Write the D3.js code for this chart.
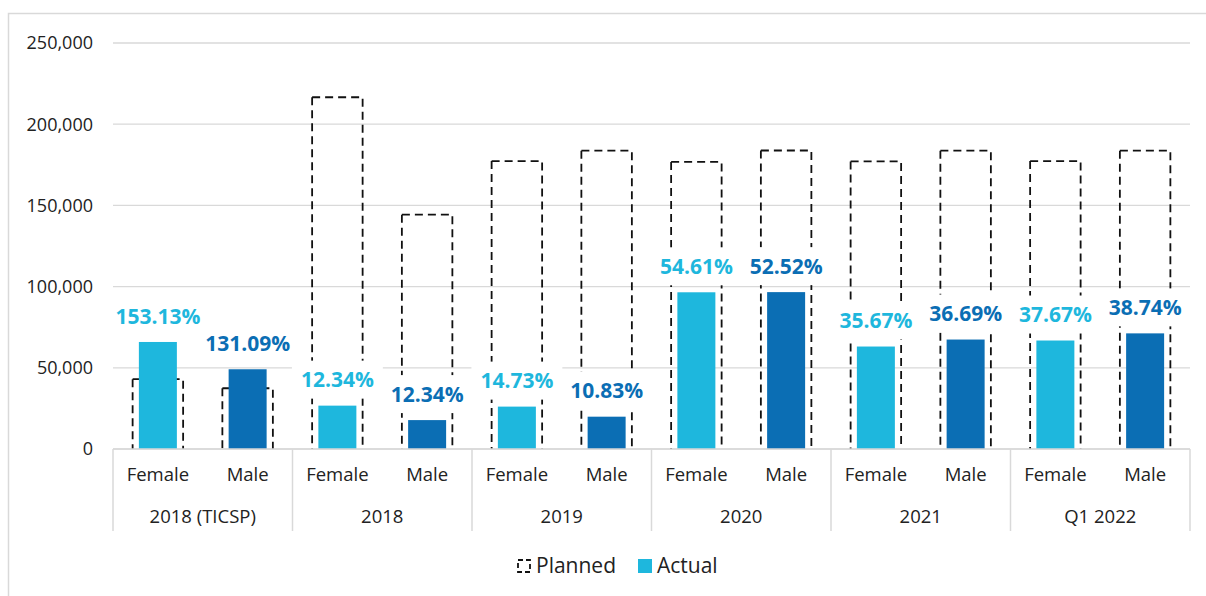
<!DOCTYPE html>
<html lang="en">
<head>
    <meta charset="UTF-8">
    <script src="https://d3js.org/d3.v7.min.js"></script>
    <title>Planned vs Actual</title>
    <style>
        body { margin: 0; background: #fff; }
        text { font-family: "Open Sans", "Noto Sans", sans-serif; }
    </style>
</head>
<body>
<div id="viz"></div>
<script>
    // data
    const groups = ["2018 (TICSP)", "2018", "2019", "2020", "2021", "Q1 2022"];
    const genders = ["Female", "Male"];
    const planned = [43000, 37400, 216600, 144300, 177300, 183700, 176800, 183800, 177100, 183700, 177300, 183700];
    const actual = [65900, 49100, 26700, 17800, 26100, 19900, 96500, 96600, 63100, 67400, 66800, 71200];
    const pctLabels = ["153.13%", "131.09%", "12.34%", "12.34%", "14.73%", "10.83%", "54.61%", "52.52%", "35.67%", "36.69%", "37.67%", "38.74%"];
    const yTicks = [0, 50000, 100000, 150000, 200000, 250000];

    const width = 1206, height = 596;
    const plot = {left: 113, right: 1190, top: 43, bottom: 449};
    const colors = {Female: "#1eb7dd", Male: "#0b6eb4"};
    const gridColor = "#d9d9d9";

    const rows = [];
    groups.forEach((g, gi) => genders.forEach((s, si) => {
        const i = gi * 2 + si;
        rows.push({key: g + "|" + s, group: g, gender: s, planned: planned[i], actual: actual[i], label: pctLabels[i]});
    }));

    const svg = d3.select("#viz")
        .append("svg")
        .attr("width", width)
        .attr("height", height);

    // chart frame
    svg.append("rect")
        .attr("x", 8.5).attr("y", 13.5)
        .attr("width", 1220).attr("height", 620)
        .attr("fill", "none")
        .attr("stroke", gridColor)
        .attr("stroke-width", 1.5);

    const x = d3.scaleBand()
        .domain(rows.map(d => d.key))
        .range([plot.left, plot.right]);
    const xg = d3.scaleBand()
        .domain(groups)
        .range([plot.left, plot.right]);
    const y = d3.scaleLinear()
        .domain([0, 250000])
        .range([plot.bottom, plot.top]);

    // gridlines + y labels
    svg.append("g")
        .selectAll("line")
        .data(yTicks)
        .join("line")
        .attr("x1", plot.left).attr("x2", plot.right)
        .attr("y1", d => y(d)).attr("y2", d => y(d))
        .attr("stroke", gridColor)
        .attr("stroke-width", 1.3);
    svg.append("g")
        .selectAll("text")
        .data(yTicks)
        .join("text")
        .attr("x", 93)
        .attr("y", d => y(d))
        .attr("dy", "0.36em")
        .attr("text-anchor", "end")
        .style("font-size", "18px")
        .attr("fill", "#222")
        .text(d => d3.format(",")(d));

    // planned bars (dashed outline, open at the bottom)
    const pw = 50.5, aw = 38;
    svg.append("g")
        .selectAll("path")
        .data(rows)
        .join("path")
        .attr("d", d => {
            const cx = x(d.key) + x.bandwidth() / 2;
            const l = cx - pw / 2, r = cx + pw / 2, t = y(d.planned), b = y(0);
            return `M${l},${t}H${r}V${b}M${l},${t}V${b}`;
        })
        .attr("fill", "none")
        .attr("stroke", "#111")
        .attr("stroke-width", 1.8)
        .attr("stroke-dasharray", "8,5");

    // actual bars
    svg.append("g")
        .selectAll("rect")
        .data(rows)
        .join("rect")
        .attr("x", d => x(d.key) + x.bandwidth() / 2 - aw / 2)
        .attr("y", d => y(d.actual))
        .attr("width", aw)
        .attr("height", d => y(0) - y(d.actual))
        .attr("fill", d => colors[d.gender]);

    // percentage labels on white boxes
    const lab = svg.append("g")
        .selectAll("g")
        .data(rows)
        .join("g")
        .attr("transform", d => `translate(${x(d.key) + x.bandwidth() / 2},${y(d.actual) - 26})`);
    lab.append("rect")
        .attr("fill", "#fff");
    lab.append("text")
        .attr("text-anchor", "middle")
        .attr("dy", "0.36em")
        .style("font-size", "21px")
        .style("font-weight", "bold")
        .attr("fill", d => colors[d.gender])
        .text(d => d.label);
    lab.each(function () {
        const g = d3.select(this);
        const w = g.select("text").node().getComputedTextLength() + 18;
        g.select("rect")
            .attr("x", -w / 2).attr("y", -19)
            .attr("width", w).attr("height", 38);
    });

    // x axis: baseline, separators, labels
    svg.append("line")
        .attr("x1", plot.left).attr("x2", plot.right)
        .attr("y1", plot.bottom).attr("y2", plot.bottom)
        .attr("stroke", gridColor)
        .attr("stroke-width", 1.5);
    svg.append("g")
        .selectAll("line")
        .data(groups.concat(["end"]))
        .join("line")
        .attr("x1", (d, i) => i < groups.length ? xg(d) : plot.right)
        .attr("x2", (d, i) => i < groups.length ? xg(d) : plot.right)
        .attr("y1", plot.bottom).attr("y2", 531)
        .attr("stroke", gridColor)
        .attr("stroke-width", 1.5);
    svg.append("g")
        .selectAll("text")
        .data(rows)
        .join("text")
        .attr("x", d => x(d.key) + x.bandwidth() / 2)
        .attr("y", 481)
        .attr("text-anchor", "middle")
        .style("font-size", "18.5px")
        .attr("fill", "#222")
        .text(d => d.gender);
    svg.append("g")
        .selectAll("text")
        .data(groups)
        .join("text")
        .attr("x", d => xg(d) + xg.bandwidth() / 2)
        .attr("y", 523)
        .attr("text-anchor", "middle")
        .style("font-size", "18.5px")
        .attr("fill", "#222")
        .text(d => d);

    // legend
    const legend = svg.append("g");
    legend.append("path")
        .attr("d", "M518,560H530V572H518Z")
        .attr("fill", "none")
        .attr("stroke", "#111")
        .attr("stroke-width", 1.8)
        .attr("stroke-dasharray", "5,3");
    legend.append("text")
        .attr("x", 536).attr("y", 573)
        .style("font-size", "21px")
        .attr("fill", "#222")
        .text("Planned");
    legend.append("rect")
        .attr("x", 638).attr("y", 559)
        .attr("width", 14).attr("height", 14)
        .attr("fill", colors.Female);
    legend.append("text")
        .attr("x", 657).attr("y", 573)
        .style("font-size", "21px")
        .attr("fill", "#222")
        .text("Actual");
</script>
</body>
</html>
